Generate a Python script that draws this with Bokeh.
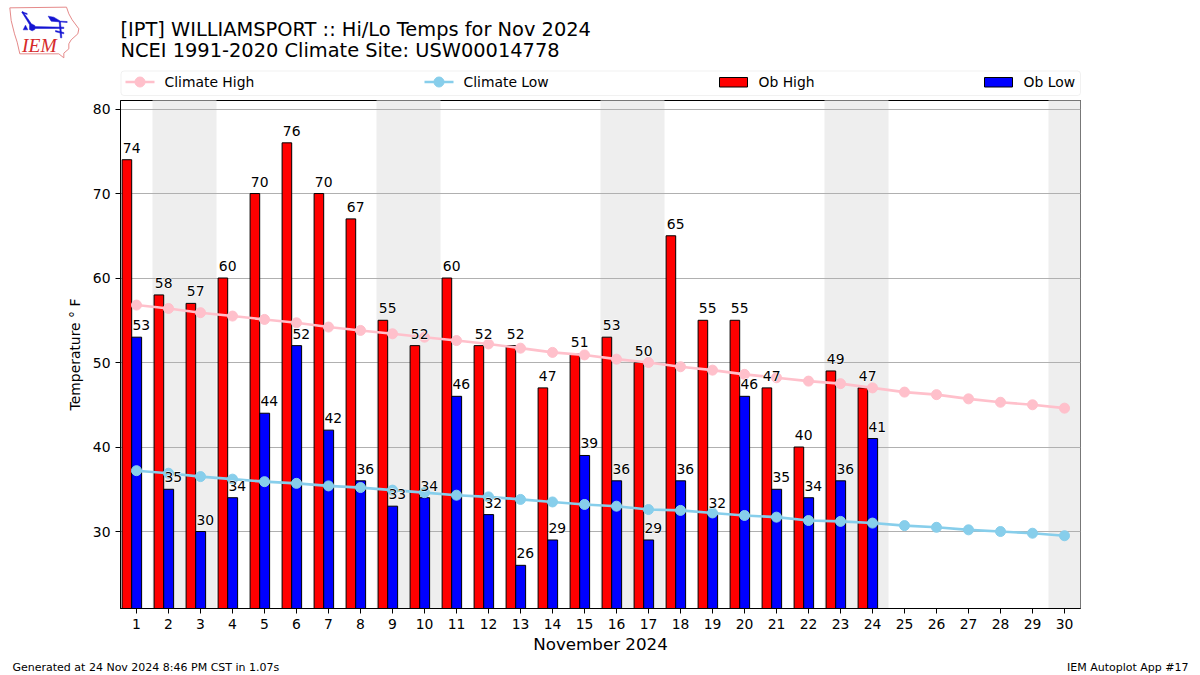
from bokeh.plotting import figure
from bokeh.embed import file_html
from bokeh.resources import INLINE
from bokeh.core.properties import value
from bokeh.layouts import column
from bokeh.models import Range1d, FixedTicker, BoxAnnotation

days = list(range(1, 31))
ob_days = list(range(1, 25))
ob_high = [74,58,57,60,70,76,70,67,55,52,60,52,52,47,51,53,50,65,55,55,47,40,49,47]
ob_low = [53,35,30,34,44,52,42,36,33,34,46,32,26,29,39,36,29,36,32,46,35,34,36,41]
climate_high = [56.8,56.4,55.9,55.5,55.1,54.7,54.2,53.8,53.4,53.0,52.6,52.2,51.7,51.2,50.9,
                50.4,50.0,49.5,49.1,48.6,48.2,47.8,47.5,47.0,46.5,46.2,45.7,45.3,45.0,44.6]
climate_low = [37.2,36.9,36.5,36.2,35.9,35.7,35.4,35.2,34.9,34.6,34.3,34.1,33.8,33.5,33.2,
               33.0,32.6,32.5,32.2,31.9,31.7,31.3,31.2,31.0,30.7,30.5,30.2,30.0,29.8,29.5]
weekend_start = [1.5, 8.5, 15.5, 22.5, 29.5]
weekend_end = [3.5, 10.5, 17.5, 24.5, 31.0]
y_ticks = [30, 40, 50, 60, 70, 80]
FONT = "DejaVu Sans"
PINK = "#ffc0cb"
SKY = "#87ceeb"

# ---------- main chart ----------
p = figure(width=1200, height=559, output_backend="svg", toolbar_location=None,
           x_range=Range1d(0.5, 30.5), y_range=Range1d(20.89, 81.01),
           frame_width=960, frame_height=508, frame_align=False,
           min_border_left=120, min_border_right=120, min_border_top=4, min_border_bottom=47)
p.background_fill_color = "white"
p.border_fill_color = "white"
p.outline_line_color = "black"
p.outline_line_width = 1

p.xaxis.ticker = FixedTicker(ticks=days)
p.yaxis.ticker = FixedTicker(ticks=y_ticks)
p.xaxis.axis_label = "November 2024"
p.yaxis.axis_label = "Temperature ° F"
for ax in (p.xaxis[0], p.yaxis[0]):
    ax.major_label_text_font = FONT
    ax.major_label_text_font_size = "13.9px"
    ax.major_label_text_color = "black"
    ax.axis_label_text_font = FONT
    ax.axis_label_text_font_style = "normal"
    ax.axis_label_text_color = "black"
    ax.major_tick_in = 0
    ax.major_tick_out = 5
    ax.minor_tick_in = 0
    ax.minor_tick_out = 0
    ax.major_tick_line_color = "black"
    ax.axis_line_color = "black"
p.xaxis.axis_label_text_font_size = "16.7px"
p.yaxis.axis_label_text_font_size = "13.9px"
p.xaxis.axis_label_standoff = 2
p.yaxis.axis_label_standoff = 7
p.yaxis.major_label_orientation = "horizontal"
p.xgrid.visible = False
p.ygrid.grid_line_color = "#b0b0b0"
p.ygrid.grid_line_width = 1

p.quad(left=weekend_start, right=weekend_end, bottom=0, top=100,
       fill_color="#eeeeee", line_color=None, level="image")

p.vbar(x=[d - 0.30 for d in ob_days], width=0.30, bottom=0, top=ob_high,
       fill_color="#ff0000", line_color="black", line_width=1)
p.vbar(x=[d + 0.005 for d in ob_days], width=0.31, bottom=0, top=ob_low,
       fill_color="#0000ff", line_color="black", line_width=1)

p.line(days, climate_high, line_color=PINK, line_width=2.6)
p.scatter(days, climate_high, size=10, fill_color=PINK, line_color=PINK)
p.line(days, climate_low, line_color=SKY, line_width=2.6)
p.scatter(days, climate_low, size=10, fill_color=SKY, line_color=SKY)

lab_style = dict(text_font=value(FONT), text_font_size="13.9px",
                 text_align="center", text_baseline="bottom", y_offset=-7)
for series, shift in ((ob_high, -0.15), (ob_low, 0.15)):
    xs = [d + shift for d in ob_days]
    txt = [str(v) for v in series]
    p.text(x=xs, y=series, text=txt, text_color="white", text_outline_color="white", **lab_style)
    p.text(x=xs, y=series, text=txt, text_color="black", **lab_style)


# ---------- page strips in pixel coordinates ----------
def strip(h):
    f = figure(width=1200, height=h, output_backend="svg", toolbar_location=None,
               x_range=Range1d(0, 1200), y_range=Range1d(h, 0), frame_align=False,
               x_axis_type=None, y_axis_type=None, min_border=0,
               min_border_left=0, min_border_right=0, min_border_top=0, min_border_bottom=0)
    f.outline_line_color = None
    f.background_fill_color = "white"
    f.border_fill_color = "white"
    f.xgrid.visible = False
    f.ygrid.visible = False
    return f


def put(f, x, y, s, size, align="left", color="black", font=FONT, style="normal"):
    f.text(x=[x], y=[y], text=[s], text_font=value(font), text_font_size=size,
           text_color=color, text_align=align, text_baseline="middle", text_font_style=style)


head = strip(96)
put(head, 120, 29, "[IPT] WILLIAMSPORT :: Hi/Lo Temps for Nov 2024", "19.4px")
put(head, 120, 50, "NCEI 1991-2020 Climate Site: USW00014778", "19.4px")

# legend
head.add_layout(BoxAnnotation(left=120.5, right=1080, top=70.5, bottom=95,
                              fill_color="white", line_color="#d0d0d0", line_width=1,
                              border_radius=3, level="underlay"))
for x0, col, label in ((125, PINK, "Climate High"), (424, SKY, "Climate Low")):
    head.line([x0, x0 + 29], [81.5, 81.5], line_color=col, line_width=2.6)
    head.scatter([x0 + 14.5], [81.5], size=10, fill_color=col, line_color=col)
    put(head, x0 + 39, 81.5, label, "13.9px")
for x0, col, label in ((719, "#ff0000", "Ob High"), (984, "#0000ff", "Ob Low")):
    head.quad(left=[x0], right=[x0 + 28], top=[77], bottom=[86.5], fill_color=col,
              line_color="black", line_width=1)
    put(head, x0 + 39, 81.5, label, "13.9px")


# logo (at 3x)
def third(z):
    return [v / 3 for v in z]


head.patch(third([28,198,205,215,235,232,212,205,205,190,190,175,58,50,42,32]),
           third([22,20,40,58,85,100,118,130,145,158,172,160,160,125,100,60]),
           fill_color="white", line_color="#e58a8a", line_width=1)
BLUE = "#1414d2"
for zx, zy in (([95,190,190,95], [78,80,84,84]),
               ([87,95,103,103,95,87], [75,71,75,87,91,87]),
               ([93,64,67,97], [82,35,33,76]),
               ([65,80,80,65], [34,39,42,37]),
               ([143,160,180,200,200,152], [47,50,62,63,66,62]),
               ([176,180,184,180], [64,64,112,112]),
               ([165,190,190,165], [90,96,100,94]),
               ([68,75,82], [88,74,88])):
    head.patch(third(zx), third(zy), fill_color=BLUE, line_color=BLUE, line_width=0.5)
put(head, 21.5, 44.5, "IEM", "19.5px", color="#d62a2a", font="Liberation Serif", style="italic")

foot = strip(20)
put(foot, 12, 11, "Generated at 24 Nov 2024 8:46 PM CST in 1.07s", "11px")
put(foot, 1188, 11, "IEM Autoplot App #17", "11px", align="right")

page = column(head, p, foot, spacing=0)
open("out.html", "w").write(file_html(page, INLINE))
